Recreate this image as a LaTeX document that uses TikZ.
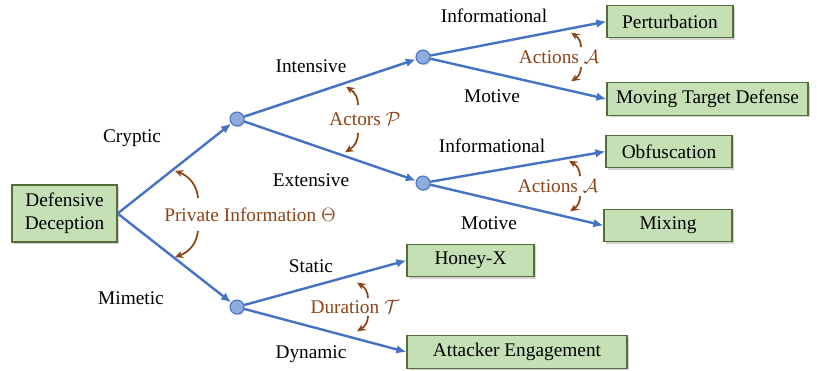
\documentclass[tikz,border=0pt]{standalone}
\usepackage{fontspec}
\setmainfont{Liberation Serif}
\newfontfamily\treefont{Liberation Serif}
\usepackage{tikz}
\usetikzlibrary{arrows.meta,shadows,bending}
\definecolor{edgeblue}{RGB}{68,114,196}
\definecolor{dotblue}{RGB}{143,170,220}
\definecolor{boxgreen}{RGB}{197,224,180}
\definecolor{boxline}{RGB}{84,110,55}
\definecolor{notebrown}{RGB}{140,68,22}
\newcommand{\edgecol}{edgeblue}
\newcommand{\notecol}{notebrown}

\begin{document}
\begin{tikzpicture}[x=0.75pt, y=0.75pt,
    font=\treefont\fontsize{14.5}{17.5}\selectfont,
    leaf/.style={draw=boxline, fill=boxgreen, line width=0.9pt, minimum height=24.5pt,
        inner sep=2pt, drop shadow={shadow xshift=1.5pt, shadow yshift=-1.5pt, opacity=0.35}},
    fork/.style={circle, draw=\edgecol, fill=dotblue, thick, minimum size=10.5pt, inner sep=0pt,
        drop shadow={shadow xshift=1pt, shadow yshift=-1pt, opacity=0.3}},
    branch/.style={draw=\edgecol, line width=1.8pt, -{Latex[length=7.5pt,width=6.5pt]}},
    note/.style={text=\notecol},
    swing/.style={draw=\notecol, line width=1.3pt, -{Stealth[length=6pt,width=5.5pt,bend]}}]

    \useasboundingbox (0, 0) rectangle (817, -371);

    % tree nodes
    \node[leaf, minimum width=78.75pt, minimum height=42.75pt, align=center] (dd) at (64.5, -213.5) {Defensive\\Deception};

    \node[fork] (cry) at (237, -119) {};
    \node[fork] (mim) at (237, -307) {};
    \node[fork] (int) at (423, -57) {};
    \node[fork] (ext) at (423, -183) {};

    \node[leaf, minimum width=94.5pt] (pert) at (670, -21.5) {Perturbation};
    \node[leaf, minimum width=150.75pt] (mtd) at (707.5, -99) {Moving Target Defense};
    \node[leaf, minimum width=94.5pt] (obf) at (669, -151.5) {Obfuscation};
    \node[leaf, minimum width=96pt] (mix) at (668, -225.5) {Mixing};
    \node[leaf, minimum width=95.25pt] (honey) at (470.5, -260.5) {Honey-X};
    \node[leaf, minimum width=165pt] (eng) at (517, -352) {Attacker Engagement};

    % branches
    \draw[branch] (dd.east) -- (cry);
    \draw[branch] (dd.east) -- (mim);
    \draw[branch] (cry) -- (int);
    \draw[branch] (cry) -- (ext);
    \draw[branch] (int) -- (pert.west);
    \draw[branch] (int) -- (mtd.west);
    \draw[branch] (ext) -- (obf.west);
    \draw[branch] (ext) -- (mix.west);
    \draw[branch] (mim) -- (honey.west);
    \draw[branch] (mim) -- (eng.west);

    % branch labels
    \node (lcry) at (132, -138) {Cryptic};
    \node (lmim) at (131, -298) {Mimetic};
    \node (lint) at (311, -66) {Intensive};
    \node (lext) at (311, -180) {Extensive};
    \node (linf1) at (494, -16) {Informational};
    \node (lmot1) at (492, -96) {Motive};
    \node (linf2) at (492, -146) {Informational};
    \node (lmot2) at (489, -223) {Motive};
    \node (lsta) at (311, -266) {Static};
    \node (ldyn) at (311, -354) {Dynamic};

    % dimension notes
    \node[note] (theta) at (250, -215) {Private Information $\Theta$};
    \node[note] (actors) at (365, -119) {Actors $\mathcal{P}$};
    \node[note] (act1) at (559, -57) {Actions $\mathcal{A}$};
    \node[note] (act2) at (558, -186) {Actions $\mathcal{A}$};
    \node[note] (dur) at (355, -307) {Duration $\mathcal{T}$};

    \coordinate (th1) at (198, -198);  \coordinate (th1t) at (175, -171);
    \coordinate (th2) at (198, -231);  \coordinate (th2t) at (175, -257);
    \coordinate (ac1) at (358, -105);  \coordinate (ac1t) at (346, -87);
    \coordinate (ac2) at (358, -133);  \coordinate (ac2t) at (345, -152);
    \coordinate (aa1) at (581, -47);   \coordinate (aa1t) at (571, -33);
    \coordinate (aa2) at (581, -67);   \coordinate (aa2t) at (571, -81);
    \coordinate (ab1) at (580, -176);  \coordinate (ab1t) at (569, -161);
    \coordinate (ab2) at (580, -196);  \coordinate (ab2t) at (570, -211);
    \coordinate (du1) at (368, -298);  \coordinate (du1t) at (357, -283);
    \coordinate (du2) at (368, -316);  \coordinate (du2t) at (357, -331);

    \draw[swing] (th1) to[bend right=35] (th1t);
    \draw[swing] (th2) to[bend left=35] (th2t);
    \draw[swing] (ac1) to[bend right=35] (ac1t);
    \draw[swing] (ac2) to[bend left=35] (ac2t);
    \draw[swing] (aa1) to[bend right=35] (aa1t);
    \draw[swing] (aa2) to[bend left=35] (aa2t);
    \draw[swing] (ab1) to[bend right=35] (ab1t);
    \draw[swing] (ab2) to[bend left=35] (ab2t);
    \draw[swing] (du1) to[bend right=35] (du1t);
    \draw[swing] (du2) to[bend left=35] (du2t);

\end{tikzpicture}
\end{document}
